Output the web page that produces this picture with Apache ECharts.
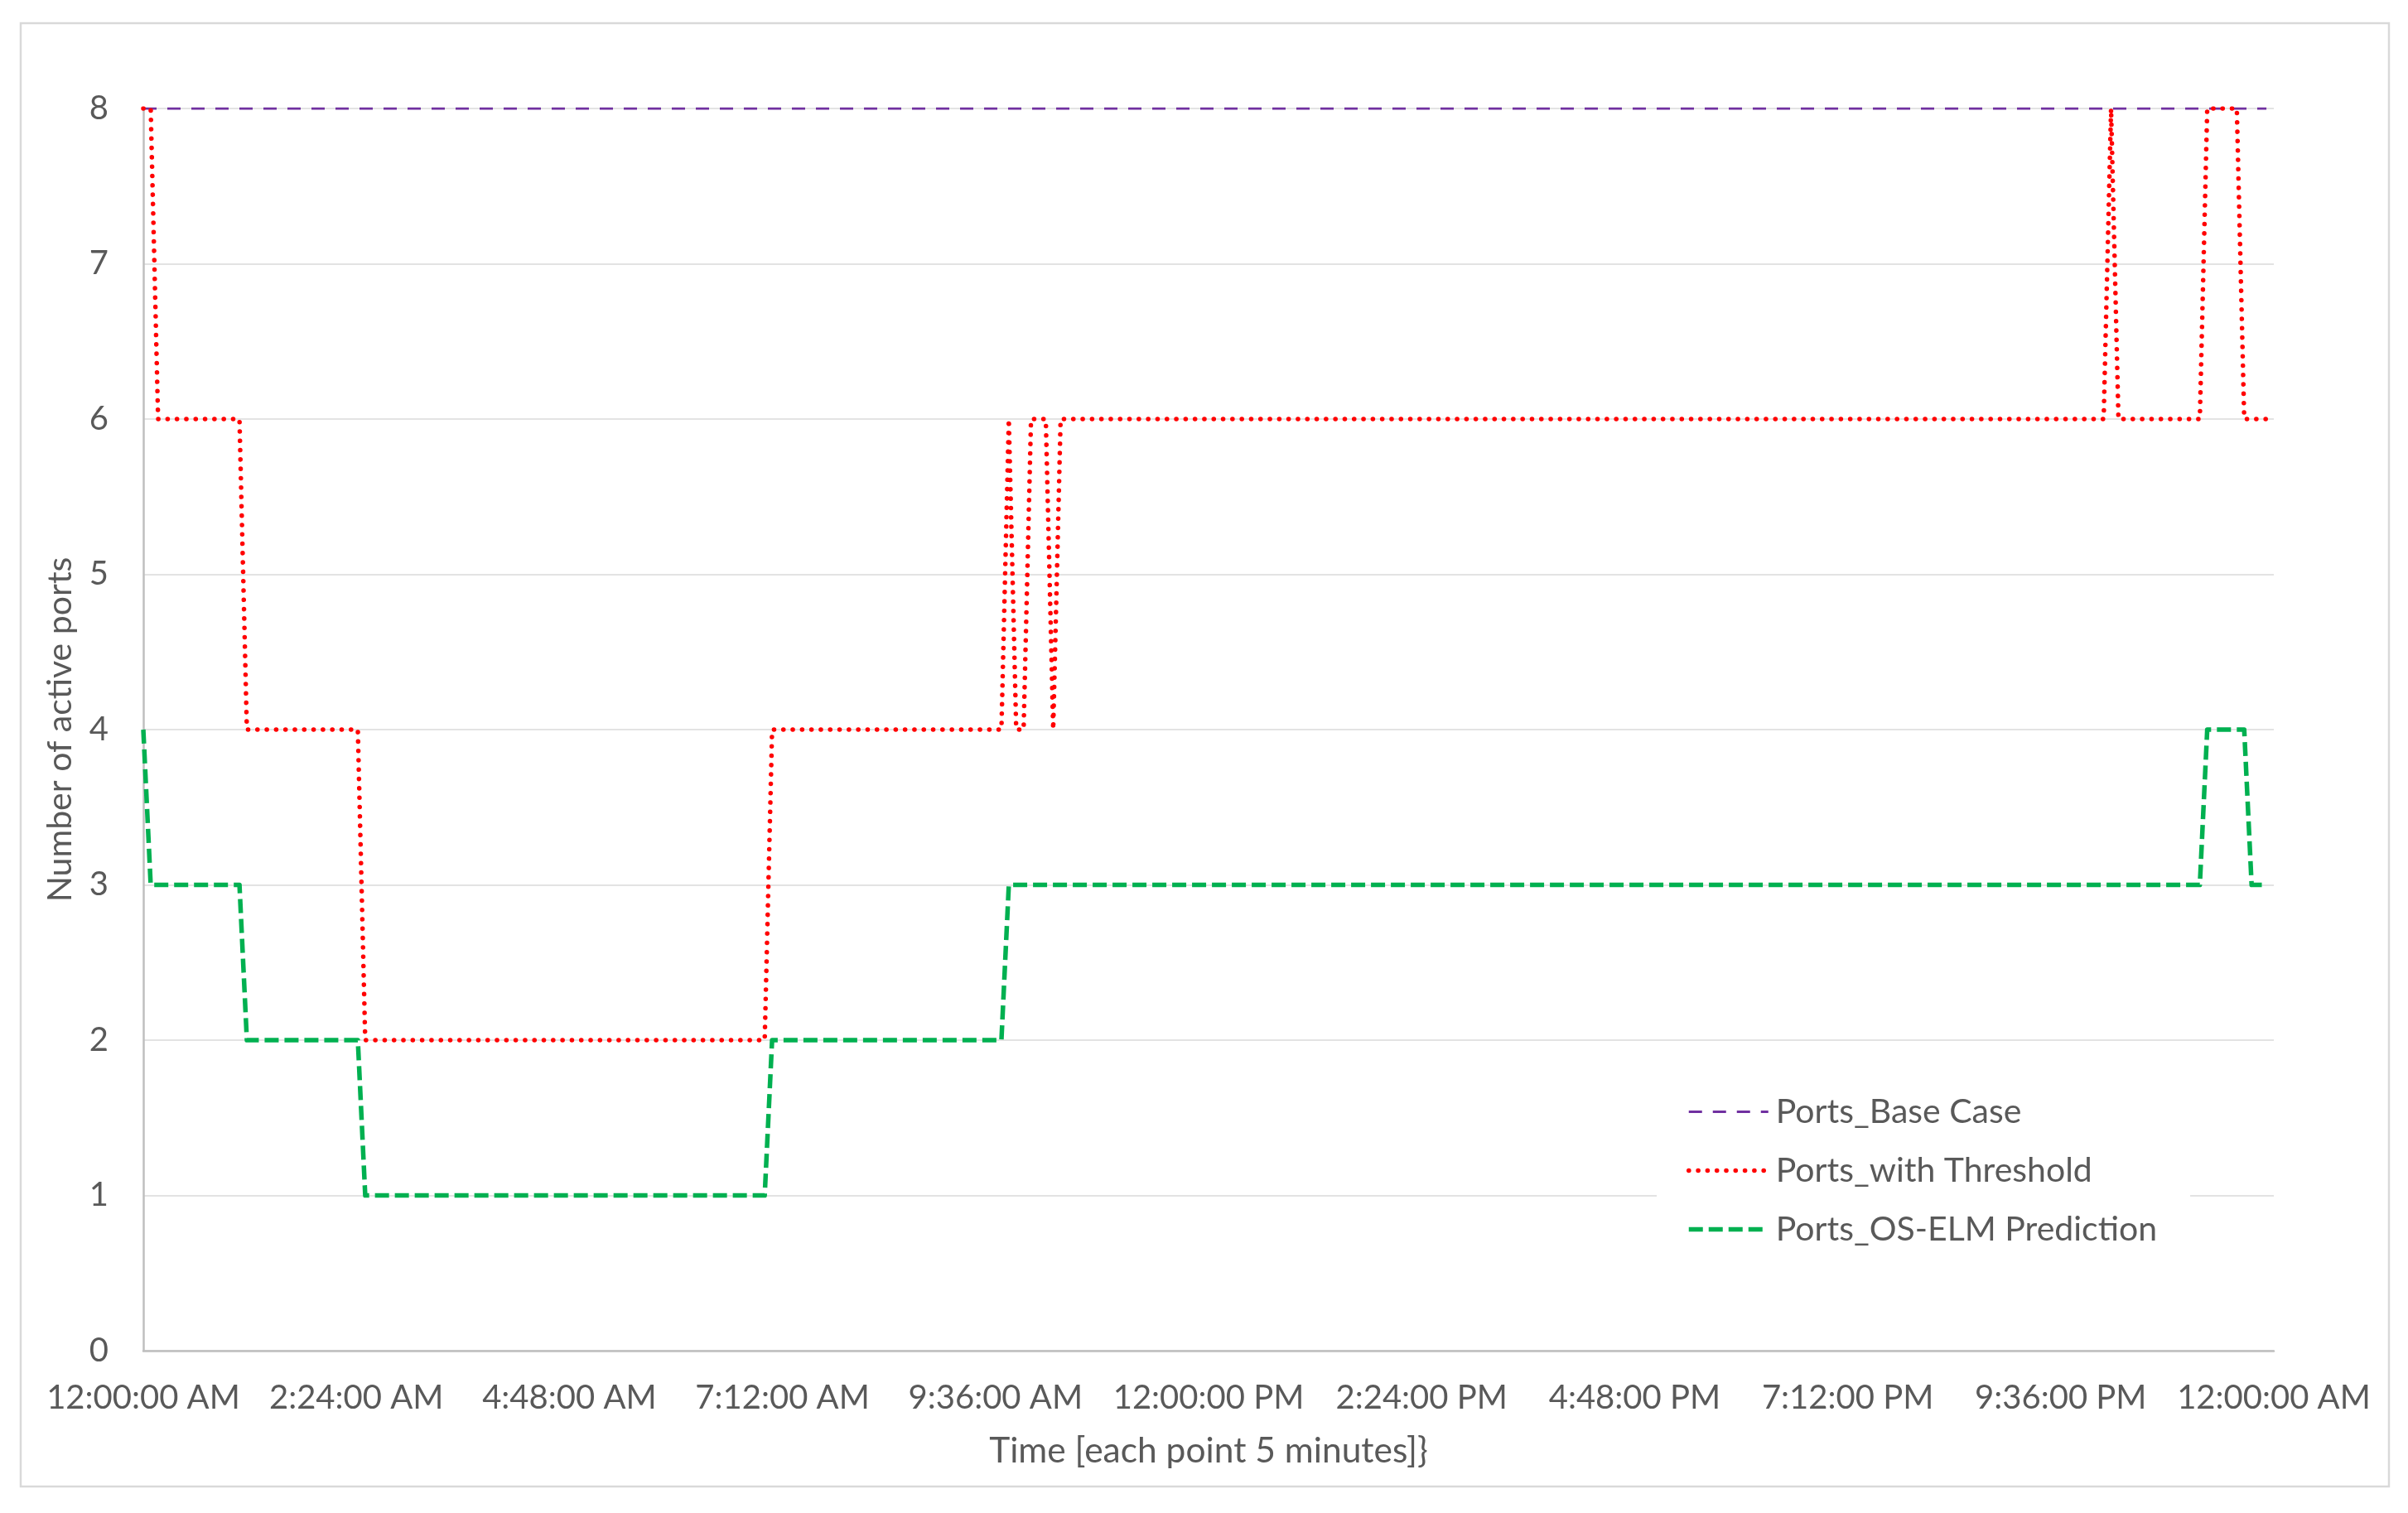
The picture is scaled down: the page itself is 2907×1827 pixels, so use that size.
<!DOCTYPE html>
<html>
<head>
<meta charset="utf-8">
<script src="https://cdn.jsdelivr.net/npm/echarts@6/dist/echarts.min.js"></script>
<style>
  html, body { margin: 0; padding: 0; background: #ffffff; }
  #chart { width: 2907px; height: 1827px; }
</style>
</head>
<body>
<div id="chart"></div>
<script>
// ---- data (minutes since midnight, vertices of each polyline) ----
const seriesNames = ["Ports_Base Case", "Ports_with Threshold", "Ports_OS-ELM Prediction"];

const baseTimes  = [0, 1435];
const baseValues = [8, 8];

const thresholdTimes  = [0, 5, 10, 65, 70, 145, 150, 420, 425, 580, 585, 590, 595, 600, 610, 615, 620, 1325, 1330, 1335, 1390, 1395, 1415, 1420, 1435];
const thresholdValues = [8, 8, 6, 6, 4, 4, 2, 2, 4, 4, 6, 4, 4, 6, 6, 4, 6, 6, 8, 6, 6, 8, 8, 6, 6];

const predTimes  = [0, 5, 65, 70, 145, 150, 420, 425, 580, 585, 1390, 1395, 1420, 1425, 1435];
const predValues = [4, 3, 3, 2, 2, 1, 1, 2, 2, 3, 3, 4, 4, 3, 3];

const xTickLabels = ["12:00:00 AM", "2:24:00 AM", "4:48:00 AM", "7:12:00 AM", "9:36:00 AM",
                     "12:00:00 PM", "2:24:00 PM", "4:48:00 PM", "7:12:00 PM", "9:36:00 PM", "12:00:00 AM"];
const yTicks = [0, 1, 2, 3, 4, 5, 6, 7, 8];

const xAxisTitle = "Time [each point 5 minutes]}";
const yAxisTitle = "Number of active ports";

function pairs(ts, vs) { return ts.map((t, i) => [t, vs[i]]); }

const FONT = "Lato";
const TXT = "#595959";

const styles = [
  { color: '#7030a0', width: 3, type: [16, 13] },
  { color: '#ff0000', width: 5.5, type: [0.1, 11.2], cap: 'round', join: 'round' },
  { color: '#00b050', width: 5.5, type: [17, 7], join: 'round' }
];

const chart = echarts.init(document.getElementById('chart'), null, { renderer: 'canvas' });
chart.setOption({
  backgroundColor: '#ffffff',
  animation: false,
  textStyle: { fontFamily: FONT, color: TXT },
  graphic: [{
    type: 'rect',
    shape: { x: 25, y: 28, width: 2859, height: 1767 },
    style: { fill: 'none', stroke: '#d9d9d9', lineWidth: 2.5 },
    z: -10
  }],
  grid: { left: 173, right: 162, top: 131, bottom: 196, containLabel: false },
  xAxis: {
    type: 'value',
    min: 0, max: 1440, interval: 144,
    name: xAxisTitle,
    nameLocation: 'middle',
    nameGap: 100,
    nameTextStyle: { fontFamily: FONT, fontSize: 42.5, color: TXT },
    axisLine: { show: true, lineStyle: { color: '#bfbfbf', width: 2.5 } },
    axisTick: { show: false },
    splitLine: { show: false },
    axisLabel: {
      fontFamily: FONT, fontSize: 40, color: TXT, margin: 37,
      formatter: function (v) { return xTickLabels[Math.round(v / 144)]; }
    }
  },
  yAxis: {
    type: 'value',
    min: yTicks[0], max: yTicks[yTicks.length - 1], interval: 1,
    name: yAxisTitle,
    nameLocation: 'middle',
    nameGap: 80,
    nameTextStyle: { fontFamily: FONT, fontSize: 41, color: TXT },
    axisLine: { show: true, lineStyle: { color: '#bfbfbf', width: 2.5 } },
    axisTick: { show: false },
    splitLine: { show: true, lineStyle: { color: '#e3e3e3', width: 2 } },
    axisLabel: { fontFamily: FONT, fontSize: 40, color: TXT, margin: 42 }
  },
  legend: {
    orient: 'vertical',
    left: 2000, top: 1308,
    padding: [14, 40, 14, 36],
    backgroundColor: '#ffffff',
    itemWidth: 96, itemHeight: 10,
    itemGap: 30,
    itemStyle: { opacity: 0 },
    textStyle: { fontFamily: FONT, fontSize: 41, color: TXT, padding: [0, 0, 0, 4] },
    data: seriesNames.map((n, i) => ({ name: n, lineStyle: Object.assign({}, styles[i]) }))
  },
  series: [
    {
      name: seriesNames[0], type: 'line', symbol: 'none',
      data: pairs(baseTimes, baseValues),
      lineStyle: styles[0],
      itemStyle: { color: styles[0].color }, z: 2
    },
    {
      name: seriesNames[1], type: 'line', symbol: 'none',
      data: pairs(thresholdTimes, thresholdValues),
      lineStyle: styles[1],
      itemStyle: { color: styles[1].color }, z: 3
    },
    {
      name: seriesNames[2], type: 'line', symbol: 'none',
      data: pairs(predTimes, predValues),
      lineStyle: styles[2],
      itemStyle: { color: styles[2].color }, z: 4
    }
  ]
});
</script>
</body>
</html>
